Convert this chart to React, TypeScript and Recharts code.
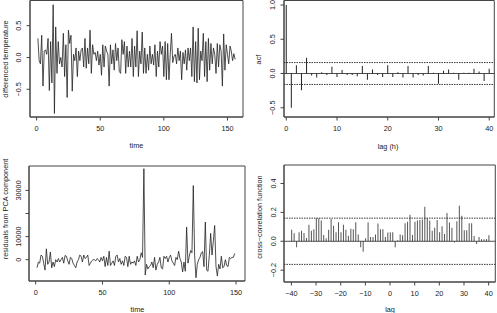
import { ComposedChart, Line, Bar, XAxis, YAxis, ReferenceLine, ReferenceArea } from 'recharts'

const FONT = '"Liberation Sans", Arial, Helvetica, sans-serif'
const INK = '#222'
const FRAME = '#444'
const FS = 7.3

// top left: differenced temperature, t = 1..156
const tempDiff = [
  0.30, -0.05, -0.10, 0.35, -0.45, 0.10, 0.12, 0.05, 0.30, -0.52,
  0.25, -0.40, 0.83, -0.88, 0.48, -0.25, 0.25, -0.10, 0.00, -0.15,
  0.38, -0.30, 0.20, -0.63, 0.43, 0.22, 0.35, -0.53, 0.05, -0.05,
  0.15, -0.30, 0.10, -0.05, 0.12, 0.15, -0.15, 0.30, -0.17, 0.15,
  -0.10, 0.43, -0.25, 0.20, 0.05, 0.08, -0.05, 0.10, -0.12, 0.05,
  -0.28, 0.20, -0.15, 0.18, 0.10, 0.05, -0.45, 0.20, -0.10, 0.12,
  -0.20, 0.22, -0.05, 0.15, -0.22, -0.25, 0.28, 0.05, 0.25, -0.25,
  0.18, -0.15, 0.10, -0.15, 0.30, -0.30, 0.18, -0.15, 0.42, -0.30,
  0.10, -0.10, 0.40, -0.25, 0.15, -0.25, 0.05, -0.20, 0.18, -0.10,
  0.05, -0.12, 0.20, -0.30, 0.10, -0.15, 0.25, 0.05, 0.18, -0.30,
  0.25, -0.35, 0.22, -0.35, 0.05, 0.38, -0.08, 0.02, 0.05, -0.10,
  0.15, -0.05, 0.10, -0.35, 0.08, -0.10, 0.12, -0.20, 0.15, -0.05,
  0.15, -0.30, 0.48, -0.38, 0.25, -0.40, 0.46, -0.35, 0.10, -0.05,
  0.38, -0.30, 0.25, -0.38, 0.30, -0.20, 0.22, -0.10, 0.15, 0.05,
  -0.25, 0.22, -0.15, 0.20, 0.10, -0.45, 0.37, -0.20, 0.20, 0.05,
  -0.10, 0.18, 0.10, -0.05, 0.06, -0.03,
]

// top right: sample acf, lags 0..40
const acfValues = [
  1.0, -0.50, 0.12, -0.245, 0.23, -0.03, -0.06, 0.02, -0.02, 0.10,
  -0.05, 0.05, -0.02, -0.02, -0.04, 0.11, -0.09, 0.06, -0.02, -0.05,
  0.12, -0.05, 0.02, -0.06, 0.11, -0.06, -0.02, -0.03, 0.11, 0.01,
  -0.15, 0.04, 0.06, 0.01, -0.09, 0.01, 0.01, 0.07, 0.03, -0.11,
  0.07,
]
const acfBound = 0.16

// bottom left: residuals from PCA component, t = 1..149
const pcaResid = [
  -3500, -1000, -1500, 2000, 1500, -1500, -4500, 4700, -2000, -1000,
  3300, -3500, -1000, -3000, 0, -1000, 500, -1000, 0, 1000,
  -1500, 1800, 1500, -500, -2000, 1000, 500, -1500, -2500, -3500,
  -1000, 0, 2000, 1500, -1000, 2000, 500, 1000, 2000, -2500,
  -1500, -500, 0, 0, -500, 500, 0, -1000, 1000, -500,
  1500, -3000, 1000, -2500, 3700, -2500, -1500, -500, -2500, 1500,
  2000, -1000, 500, -2000, -500, -2500, 1500, 1000, -3000, 1500,
  -2000, -1000, -1500, -500, -2500, 1500, -1000, 0, 3000, 1000,
  39400, -6600, -2000, -4000, -3000, -2500, -1000, -3500, 1000, -4500,
  -2000, -1000, 1000, -3500, -4000, 1500, 500, 1500, -1000, 1000,
  2000, -500, -1500, -2500, 1000, 0, 3700, 500, -1000, -5300,
  -1000, -5000, 14100, -1500, 1500, 4000, 3000, 32100, 2000, -7800,
  -2000, 0, 1000, 3000, 3500, -3000, 16300, -4500, -5000, 2000,
  11400, 2000, 8000, 14800, -3000, -7000, -2000, -4000, 1500, -3500,
  -3000, 0, -2500, -3000, 1000, 500, 1000, 1000, 2700,
]

// bottom right: cross-correlation, lags -40..40
const ccfFirstLag = -40
const ccfValues = [
  0.079, 0.056, -0.042, 0.063, 0.072, 0.058, 0.023, 0.114, 0.072, 0.084,
  0.16, 0.16, 0.144, 0.044, 0.021, 0.079, 0.155, 0.107, 0.063, 0.132,
  0.063, 0.114, 0.079, 0.039, 0.086, 0.084, 0.132, 0.046, -0.042, -0.072,
  0.021, 0.132, 0.030, 0.030, 0.046, 0.123, 0.084, 0.084, 0.030, 0.060,
  0.063, 0.063, -0.042, 0.007, 0.046, 0.042, 0.125, 0.135, 0.183, 0.044,
  0.135, 0.144, 0.148, 0.151, 0.239, 0.16, 0.144, 0.072, 0.093, 0.148,
  0.063, 0.104, 0.051, 0.195, 0.13, 0.093, -0.009, 0.139, 0.246, 0.176,
  0.077, 0.077, 0.125, 0.125, 0.037, -0.019, 0.030, 0.014, 0.014, 0.015,
  0.042,
]
const ccfBound = 0.16

// ticks
const timeTicks = [0, 50, 100, 150]
const timeTickLabels = ['0', '50', '100', '150']
const tempTicks = [-0.5, 0, 0.5]
const tempTickLabels = ['\u22120.5', '0.0', '0.5']
const acfLagTicks = [0, 10, 20, 30, 40]
const acfLagTickLabels = ['0', '10', '20', '30', '40']
const acfTicks = [-0.5, 0, 0.5, 1]
const acfTickLabels = ['\u22120.5', '0.0', '0.5', '1.0']
const pcaTicks = [0, 10000, 20000, 30000]
const pcaTickLabels = ['0', '10000', '', '30000']
const ccfLagTicks = [-40, -30, -20, -10, 0, 10, 20, 30, 40]
const ccfLagTickLabels = ['\u221240', '\u221230', '\u221220', '\u221210', '0', '10', '20', '30', '40']
const ccfTicks = [-0.2, 0, 0.2, 0.4]
const ccfTickLabels = ['\u22120.2', '0.0', '0.2', '0.4']

const tempRows = tempDiff.map((v, i) => ({ t: i + 1, v }))
const acfRows = acfValues.map((v, i) => ({ lag: i, v }))
const pcaRows = pcaResid.map((v, i) => ({ t: i + 1, v }))
const ccfRows = ccfValues.map((v, i) => ({ lag: ccfFirstLag + i, v }))

const textStyle = { fontSize: FS, fill: INK, fontFamily: FONT }

function xTick(ticks: number[], labels: string[], dy: number) {
  return (p: any) => (
    <text x={p.x} y={p.y + dy} textAnchor="middle" dominantBaseline="central" {...textStyle}>
      {labels[ticks.indexOf(p.payload.value)]}
    </text>
  )
}

function yTick(ticks: number[], labels: string[], dx: number) {
  return (p: any) => {
    const cx = p.x + dx
    return (
      <text
        x={cx}
        y={p.y}
        transform={`rotate(-90 ${cx} ${p.y})`}
        textAnchor="middle"
        dominantBaseline="central"
        {...textStyle}
      >
        {labels[ticks.indexOf(p.payload.value)]}
      </text>
    )
  }
}

// box around the plot region, R style
function box(dx: [number, number], dy: [number, number]) {
  return (
    <ReferenceArea
      x1={dx[0]}
      x2={dx[1]}
      y1={dy[0]}
      y2={dy[1]}
      fill="none"
      fillOpacity={0}
      stroke={FRAME}
      strokeWidth={1}
    />
  )
}

const TITLES = [
  { text: 'differenced temperature', x: 5, y: 59, rot: true },
  { text: 'time', x: 136.5, y: 145.5, rot: false },
  { text: 'acf', x: 258, y: 59.5, rot: true },
  { text: 'lag (h)', x: 388, y: 146, rot: false },
  { text: 'residuals from PCA component', x: 5, y: 209, rot: true },
  { text: 'time', x: 137.5, y: 309.5, rot: false },
  { text: 'cross\u2212correlation function', x: 259, y: 217, rot: true },
  { text: 'lag', x: 390, y: 309, rot: false },
]

export default function App() {
  const tempX: [number, number] = [-5.2, 162.2]
  const tempY: [number, number] = [-0.936, 0.896]
  const acfX: [number, number] = [-0.45, 41]
  const acfY: [number, number] = [-0.635, 1.066]
  const pcaX: [number, number] = [-5, 156.7]
  const pcaY: [number, number] = [-9220, 40560]
  const ccfX: [number, number] = [-43, 42.7]
  const ccfY: [number, number] = [-0.282, 0.528]

  return (
    <div style={{ position: 'absolute', left: 0, top: 0, width: 497, height: 313, background: '#fff' }}>
      <div style={{ position: 'absolute', left: 0, top: 0 }}>
        <ComposedChart width={248} height={156} data={tempRows} margin={{ top: 0.5, right: 5, bottom: 0, left: 0 }}>
          <XAxis
            dataKey="t"
            type="number"
            domain={tempX}
            allowDataOverflow
            ticks={timeTicks}
            interval={0}
            height={39}
            tickSize={3.5}
            tickMargin={0}
            stroke={FRAME}
            tick={xTick(timeTicks, timeTickLabels, 7.5)}
          />
          <YAxis
            type="number"
            domain={tempY}
            allowDataOverflow
            ticks={tempTicks}
            interval={0}
            width={30}
            tickSize={3.5}
            tickMargin={0}
            stroke={FRAME}
            tick={yTick(tempTicks, tempTickLabels, -7.5)}
          />
          {box(tempX, tempY)}
          <Line type="linear" dataKey="v" stroke={INK} strokeWidth={0.8} dot={false} isAnimationActive={false} />
        </ComposedChart>
      </div>

      <div style={{ position: 'absolute', left: 248, top: 0 }}>
        <ComposedChart width={249} height={156} data={acfRows} margin={{ top: 0.5, right: 2.7, bottom: 0, left: 0 }}>
          <XAxis
            dataKey="lag"
            type="number"
            domain={acfX}
            allowDataOverflow
            ticks={acfLagTicks}
            interval={0}
            height={39}
            tickSize={3.5}
            tickMargin={0}
            stroke={FRAME}
            tick={xTick(acfLagTicks, acfLagTickLabels, 7.5)}
          />
          <YAxis
            type="number"
            domain={acfY}
            allowDataOverflow
            ticks={acfTicks}
            interval={0}
            width={36}
            tickSize={3.5}
            tickMargin={0}
            stroke={FRAME}
            tick={yTick(acfTicks, acfTickLabels, -7.5)}
          />
          {box(acfX, acfY)}
          <ReferenceLine y={0} stroke={INK} strokeWidth={0.8} />
          <ReferenceLine y={acfBound} stroke={INK} strokeWidth={0.9} strokeDasharray="1.5 1" />
          <ReferenceLine y={-acfBound} stroke={INK} strokeWidth={0.9} strokeDasharray="1.5 1" />
          <Bar dataKey="v" fill={INK} barSize={1} isAnimationActive={false} />
        </ComposedChart>
      </div>

      <div style={{ position: 'absolute', left: 0, top: 156 }}>
        <ComposedChart width={248} height={157} data={pcaRows} margin={{ top: 10, right: 3, bottom: 0, left: 0 }}>
          <XAxis
            dataKey="t"
            type="number"
            domain={pcaX}
            allowDataOverflow
            ticks={timeTicks}
            interval={0}
            height={32}
            tickSize={3.5}
            tickMargin={0}
            stroke={FRAME}
            tick={xTick(timeTicks, timeTickLabels, 8)}
          />
          <YAxis
            type="number"
            domain={pcaY}
            allowDataOverflow
            ticks={pcaTicks}
            interval={0}
            width={29}
            tickSize={3.5}
            tickMargin={0}
            stroke={FRAME}
            tick={yTick(pcaTicks, pcaTickLabels, -7)}
          />
          {box(pcaX, pcaY)}
          <Line type="linear" dataKey="v" stroke={INK} strokeWidth={0.8} dot={false} isAnimationActive={false} />
        </ComposedChart>
      </div>

      <div style={{ position: 'absolute', left: 248, top: 156 }}>
        <ComposedChart width={249} height={157} data={ccfRows} margin={{ top: 9, right: 1.7, bottom: 0, left: 0 }}>
          <XAxis
            dataKey="lag"
            type="number"
            domain={ccfX}
            allowDataOverflow
            ticks={ccfLagTicks}
            interval={0}
            height={31}
            tickSize={3.5}
            tickMargin={0}
            stroke={FRAME}
            tick={xTick(ccfLagTicks, ccfLagTickLabels, 8)}
          />
          <YAxis
            type="number"
            domain={ccfY}
            allowDataOverflow
            ticks={ccfTicks}
            interval={0}
            width={36}
            tickSize={3.5}
            tickMargin={0}
            stroke={FRAME}
            tick={yTick(ccfTicks, ccfTickLabels, -6.5)}
          />
          {box(ccfX, ccfY)}
          <ReferenceLine y={0} stroke={INK} strokeWidth={0.8} />
          <ReferenceLine y={ccfBound} stroke={INK} strokeWidth={0.9} strokeDasharray="1.5 1" />
          <ReferenceLine y={-ccfBound} stroke={INK} strokeWidth={0.9} strokeDasharray="1.5 1" />
          <Bar dataKey="v" fill="#555" barSize={1} isAnimationActive={false} />
        </ComposedChart>
      </div>

      <svg width={497} height={313} style={{ position: 'absolute', left: 0, top: 0, pointerEvents: 'none' }}>
        {TITLES.map((t) => (
          <text
            key={t.text + t.x}
            x={t.x}
            y={t.y}
            transform={t.rot ? `rotate(-90 ${t.x} ${t.y})` : undefined}
            textAnchor="middle"
            dominantBaseline="central"
            {...textStyle}
          >
            {t.text}
          </text>
        ))}
      </svg>
    </div>
  )
}
